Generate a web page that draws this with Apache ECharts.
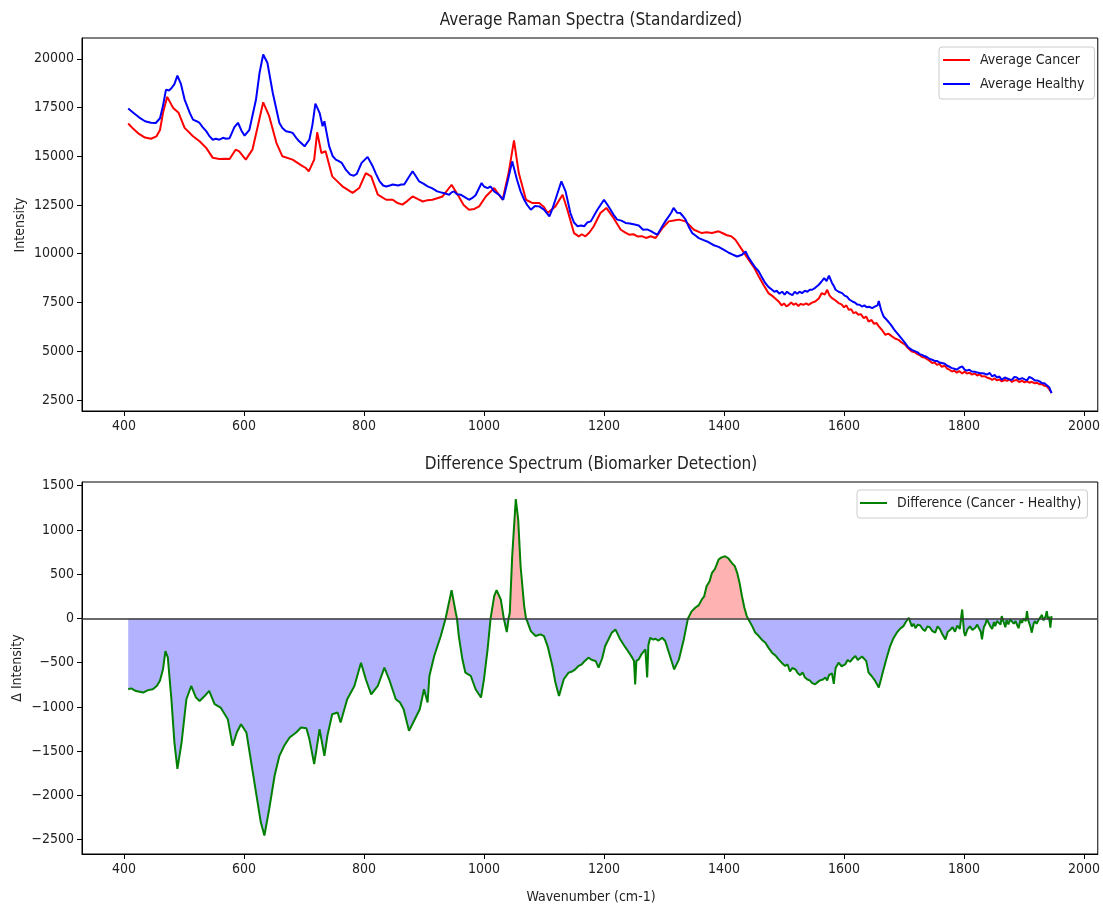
<!DOCTYPE html>
<html><head><meta charset="utf-8">
<script src="https://cdn.jsdelivr.net/npm/echarts@6/dist/echarts.min.js"></script>
<style>html,body{margin:0;padding:0;background:#fff}#c{width:1103px;height:906px}</style>
</head><body><div id="c"></div>
<script>
// ---- data (wavenumber, value) ----
const cancerSpectrum = [[407,16680],[415,16420],[425,16150],[435,15960],[445,15900],[454,16020],[460,16350],[465,17230],[472,18050],[479,17650],[482,17480],[491,17230],[501,16460],[515,16030],[526,15770],[537,15430],[548,14920],[559,14860],[570,14870],[576,14860],[586,15340],[592,15250],[603,14830],[614,15340],[623,16540],[632,17770],[642,17060],[654,15690],[664,15000],[681,14830],[695,14550],[703,14400],[708,14230],[717,14830],[722,16230],[729,15170],[736,15260],[747,13970],[756,13700],[764,13460],[781,13120],[792,13370],[803,14140],[812,13970],[823,13030],[837,12770],[848,12770],[856,12600],[864,12520],[872,12700],[881,12940],[890,12800],[898,12680],[906,12750],[914,12770],[922,12850],[931,12940],[946,13540],[958,12940],[966,12500],[975,12260],[984,12300],[992,12430],[1003,12940],[1017,13370],[1031,12770],[1041,14140],[1050,15820],[1058,14140],[1070,12770],[1081,12600],[1092,12600],[1100,12400],[1106,12090],[1119,12430],[1131,13030],[1139,12260],[1150,11060],[1158,10890],[1163,11000],[1169,10890],[1176,11100],[1183,11410],[1194,12090],[1204,12350],[1214,11920],[1228,11230],[1235,11100],[1242,10980],[1249,11000],[1256,10890],[1263,10900],[1270,10810],[1278,10900],[1286,10810],[1297,11300],[1308,11660],[1316,11700],[1325,11750],[1336,11660],[1350,11230],[1363,11060],[1371,11100],[1380,11060],[1391,11150],[1398,11050],[1405,10950],[1412,10900],[1419,10720],[1430,10210],[1441,9690],[1450,9300],[1458,8830],[1466,8400],[1474,7980],[1480,7850],[1485,7720],[1491,7550],[1496,7350],[1500,7450],[1504,7300],[1508,7380],[1512,7500],[1516,7380],[1520,7450],[1524,7320],[1528,7430],[1532,7380],[1537,7450],[1541,7380],[1546,7480],[1552,7550],[1558,7700],[1563,7980],[1568,7900],[1572,8150],[1576,7850],[1580,7720],[1586,7600],[1591,7470],[1596,7400],[1600,7250],[1604,7350],[1608,7120],[1612,7150],[1616,6950],[1620,7000],[1624,6870],[1628,6900],[1633,6700],[1637,6780],[1641,6520],[1646,6600],[1650,6400],[1654,6450],[1658,6270],[1663,6100],[1669,5840],[1674,5900],[1680,5760],[1685,5650],[1691,5580],[1696,5450],[1702,5330],[1707,5150],[1713,4980],[1718,4950],[1722,4850],[1726,4800],[1730,4700],[1734,4680],[1738,4600],[1743,4500],[1747,4390],[1751,4420],[1755,4300],[1759,4350],[1763,4200],[1768,4250],[1772,4100],[1776,4050],[1780,3960],[1784,4000],[1788,3900],[1792,3980],[1797,3850],[1801,3950],[1805,3850],[1809,3900],[1813,3800],[1818,3850],[1822,3750],[1826,3820],[1830,3700],[1834,3720],[1838,3650],[1843,3600],[1847,3530],[1851,3600],[1855,3500],[1859,3550],[1863,3450],[1868,3520],[1872,3480],[1876,3550],[1880,3420],[1884,3500],[1888,3520],[1892,3420],[1897,3480],[1901,3400],[1905,3450],[1909,3380],[1913,3430],[1918,3350],[1922,3380],[1926,3300],[1930,3320],[1934,3220],[1938,3200],[1942,3050],[1946,2850]];

const healthySpectrum = [[407,17450],[415,17250],[425,17000],[435,16800],[445,16720],[453,16710],[460,16950],[465,17600],[470,18420],[475,18380],[479,18490],[484,18700],[489,19140],[495,18700],[501,17910],[510,17200],[515,16880],[521,16800],[526,16710],[531,16500],[537,16290],[542,16050],[548,15850],[553,15900],[559,15850],[565,15950],[570,15900],[576,15930],[584,16500],[590,16720],[596,16300],[601,16060],[609,16360],[620,17910],[626,19300],[632,20220],[639,19800],[648,18250],[659,16710],[664,16450],[670,16280],[676,16250],[681,16200],[687,15950],[692,15770],[701,15510],[709,15860],[714,16600],[719,17700],[726,17230],[731,16540],[734,16800],[742,15510],[748,15000],[753,14830],[758,14750],[763,14660],[770,14300],[777,14060],[783,14000],[788,14100],[796,14660],[806,14970],[814,14520],[820,14100],[826,13710],[832,13500],[837,13450],[843,13500],[848,13550],[857,13500],[862,13550],[867,13550],[874,13900],[881,14230],[886,14000],[892,13710],[899,13600],[906,13460],[914,13350],[922,13200],[928,13150],[934,13100],[942,13030],[946,13150],[950,13200],[955,13050],[961,13030],[968,12900],[975,12770],[980,12850],[986,13000],[996,13630],[1000,13450],[1006,13370],[1011,13450],[1017,13200],[1026,13000],[1032,12770],[1040,13800],[1047,14740],[1055,13800],[1061,13200],[1067,12770],[1072,12500],[1078,12260],[1085,12450],[1092,12430],[1100,12260],[1109,11920],[1114,12300],[1119,12770],[1129,13710],[1136,13200],[1144,12090],[1150,11600],[1156,11410],[1162,11450],[1167,11410],[1172,11600],[1178,11660],[1189,12260],[1200,12770],[1206,12500],[1211,12260],[1217,11950],[1222,11750],[1229,11700],[1236,11580],[1243,11550],[1251,11500],[1258,11450],[1265,11230],[1272,11250],[1279,11150],[1284,11050],[1289,10980],[1297,11400],[1303,11700],[1308,11920],[1312,12100],[1316,12350],[1322,12100],[1327,12090],[1331,11950],[1336,11750],[1341,11400],[1347,11060],[1352,10950],[1358,10800],[1366,10700],[1374,10600],[1382,10450],[1391,10350],[1400,10200],[1408,10050],[1415,9950],[1422,9860],[1430,9950],[1436,10120],[1441,9800],[1447,9520],[1452,9300],[1458,9090],[1463,8800],[1469,8490],[1474,8300],[1480,8150],[1484,8050],[1488,8100],[1492,7950],[1497,8050],[1501,7900],[1505,8050],[1509,7950],[1514,7880],[1518,8050],[1522,7950],[1526,8050],[1530,7980],[1535,8100],[1539,8050],[1543,8150],[1547,8150],[1552,8250],[1558,8410],[1562,8550],[1567,8750],[1571,8600],[1575,8880],[1580,8500],[1583,8350],[1586,8150],[1591,8050],[1597,7980],[1601,7850],[1605,7800],[1609,7650],[1614,7550],[1618,7500],[1622,7400],[1626,7380],[1630,7290],[1634,7350],[1638,7250],[1642,7280],[1647,7210],[1652,7300],[1656,7350],[1658,7580],[1662,7100],[1666,6780],[1670,6650],[1673,6600],[1677,6400],[1680,6270],[1685,6050],[1691,5840],[1696,5650],[1702,5410],[1707,5200],[1713,5070],[1718,5000],[1722,4950],[1726,4850],[1730,4810],[1734,4750],[1738,4700],[1743,4600],[1747,4560],[1751,4500],[1755,4500],[1759,4420],[1763,4390],[1768,4350],[1772,4250],[1776,4200],[1780,4130],[1784,4100],[1788,4050],[1792,4150],[1797,4220],[1801,4050],[1805,4000],[1809,4050],[1813,3960],[1818,3950],[1822,3900],[1826,3880],[1830,3870],[1834,3850],[1838,3800],[1843,3880],[1847,3700],[1851,3780],[1855,3650],[1859,3700],[1863,3530],[1868,3650],[1872,3600],[1876,3550],[1880,3530],[1884,3680],[1888,3650],[1892,3550],[1897,3620],[1901,3550],[1905,3500],[1909,3680],[1913,3620],[1918,3500],[1922,3500],[1926,3450],[1930,3360],[1934,3350],[1938,3250],[1942,3150],[1946,2850]];

const differenceSpectrum = [[407,-800],[412,-790],[420,-820],[432,-837],[440,-810],[448,-800],[455,-760],[460,-700],[465,-575],[469,-370],[473,-440],[479,-913],[484,-1400],[489,-1700],[496,-1400],[504,-913],[512,-763],[520,-894],[526,-932],[534,-880],[542,-819],[551,-969],[561,-1007],[573,-1138],[581,-1439],[588,-1288],[595,-1195],[604,-1288],[612,-1627],[620,-1965],[628,-2303],[634,-2453],[642,-2153],[651,-1777],[659,-1552],[667,-1439],[676,-1345],[687,-1288],[695,-1232],[704,-1240],[709,-1363],[717,-1645],[726,-1251],[734,-1552],[739,-1326],[747,-1082],[756,-1063],[761,-1176],[772,-913],[784,-763],[795,-500],[803,-687],[812,-857],[823,-763],[834,-556],[842,-690],[853,-913],[860,-950],[866,-1026],[875,-1270],[882,-1176],[893,-1026],[900,-800],[906,-950],[909,-650],[917,-425],[928,-199],[936,0],[946,319],[953,64],[955,0],[958,-199],[964,-462],[969,-613],[978,-650],[986,-800],[995,-894],[1000,-687],[1006,-349],[1011,0],[1017,251],[1021,319],[1028,214],[1033,0],[1038,-154],[1041,0],[1043,64],[1047,702],[1053,1349],[1057,1116],[1061,589],[1067,139],[1070,0],[1072,-30],[1078,-143],[1086,-199],[1094,-180],[1100,-199],[1106,-312],[1114,-537],[1119,-725],[1125,-875],[1133,-687],[1141,-612],[1147,-600],[1152,-575],[1157,-540],[1163,-518],[1168,-480],[1174,-443],[1180,-470],[1186,-480],[1191,-556],[1197,-450],[1202,-312],[1208,-230],[1213,-161],[1219,-124],[1227,-236],[1233,-300],[1238,-349],[1243,-400],[1247,-443],[1250,-480],[1252,-745],[1254,-480],[1258,-462],[1263,-400],[1269,-349],[1272,-668],[1274,-300],[1277,-218],[1282,-240],[1286,-230],[1291,-250],[1297,-218],[1302,-255],[1310,-425],[1317,-575],[1325,-462],[1333,-237],[1340,0],[1346,80],[1352,120],[1358,150],[1363,214],[1367,250],[1371,364],[1376,420],[1380,515],[1385,560],[1391,665],[1396,690],[1402,702],[1407,680],[1410,700],[1413,627],[1418,590],[1422,515],[1426,400],[1430,251],[1434,120],[1438,26],[1440,0],[1447,-87],[1452,-160],[1458,-199],[1463,-240],[1469,-274],[1474,-330],[1480,-387],[1486,-420],[1491,-462],[1496,-500],[1502,-537],[1506,-520],[1510,-600],[1514,-560],[1519,-575],[1523,-620],[1527,-640],[1531,-610],[1535,-668],[1539,-690],[1543,-700],[1547,-730],[1552,-744],[1556,-720],[1560,-700],[1565,-690],[1569,-668],[1572,-700],[1575,-640],[1580,-620],[1583,-740],[1586,-560],[1591,-500],[1596,-540],[1602,-520],[1606,-470],[1610,-490],[1615,-450],[1619,-425],[1623,-470],[1626,-480],[1630,-430],[1633,-440],[1637,-480],[1641,-612],[1646,-650],[1652,-706],[1655,-690],[1658,-781],[1662,-680],[1666,-575],[1671,-450],[1677,-312],[1682,-230],[1688,-161],[1693,-120],[1699,-87],[1703,-40],[1708,8],[1713,-90],[1716,-60],[1719,-110],[1723,-70],[1727,-80],[1731,-120],[1735,-143],[1739,-90],[1743,-100],[1747,-140],[1752,-161],[1756,-90],[1760,-120],[1764,-180],[1769,-237],[1773,-150],[1777,-130],[1781,-100],[1785,-150],[1789,-80],[1793,-120],[1797,101],[1800,-150],[1802,-199],[1806,-120],[1810,-90],[1814,-130],[1819,-105],[1822,-70],[1825,-60],[1828,-150],[1830,-237],[1833,-100],[1836,-60],[1838,-10],[1841,-30],[1844,-90],[1847,-120],[1850,-40],[1852,-87],[1855,-30],[1858,-20],[1861,-70],[1863,26],[1866,-40],[1869,-100],[1871,-20],[1874,-68],[1877,-10],[1880,10],[1883,-60],[1886,-30],[1889,-80],[1891,-110],[1894,-20],[1897,-50],[1899,0],[1901,20],[1903,-30],[1905,82],[1907,-20],[1909,-40],[1911,-100],[1913,-161],[1916,-60],[1918,-30],[1921,-60],[1924,-20],[1927,10],[1930,40],[1932,-20],[1934,-40],[1936,20],[1938,82],[1940,-10],[1942,20],[1944,-105],[1946,26]];

const xTicks = [400, 600, 800, 1000, 1200, 1400, 1600, 1800, 2000];
const yTicksTop = [2500, 5000, 7500, 10000, 12500, 15000, 17500, 20000];
const yTicksBottom = [-2500, -2000, -1500, -1000, -500, 0, 500, 1000, 1500];

// ---- chart ----
const FONT = "'DejaVu Sans Condensed','DejaVu Sans',sans-serif";
const TXT = '#222';
const chart = echarts.init(document.getElementById('c'), null, {renderer: 'canvas'});

const posPart = differenceSpectrum.map(p => [p[0], Math.max(p[1], 0)]);
const negPart = differenceSpectrum.map(p => [p[0], Math.min(p[1], 0)]);
const fmt = v => (v < 0 ? '\u2212' + Math.abs(v) : String(v));

function xAxis(gi) {
  return {
    type: 'value', gridIndex: gi, min: 330, max: 2023,
    axisLine: {show: true, onZero: false, lineStyle: {color: '#000', width: 1}},
    axisTick: {show: true, customValues: xTicks, length: 5, lineStyle: {color: '#000'}},
    axisLabel: {customValues: xTicks, color: TXT, fontSize: 14, fontFamily: FONT, margin: 8, formatter: fmt},
    splitLine: {show: false}
  };
}
function yAxis(gi, min, max, ticks) {
  return {
    type: 'value', gridIndex: gi, min: min, max: max,
    axisLine: {show: true, onZero: false, lineStyle: {color: '#000', width: 1}},
    axisTick: {show: true, customValues: ticks, length: 5, lineStyle: {color: '#000'}},
    axisLabel: {customValues: ticks, color: TXT, fontSize: 14, fontFamily: FONT, margin: 8, formatter: fmt},
    splitLine: {show: false}
  };
}

const legendBase = {
  orient: 'vertical', icon: 'rect', itemWidth: 27, itemHeight: 2, itemGap: 8,
  backgroundColor: 'rgba(255,255,255,0.8)', borderColor: '#cccccc', borderWidth: 1, borderRadius: 3,
  textStyle: {color: TXT, fontSize: 14, fontFamily: FONT, lineHeight: 16, padding: [0, 0, 0, 5]}
};

chart.setOption({
  animation: false,
  backgroundColor: '#fff',
  grid: [
    {left: 82, top: 38, width: 1017, height: 373, show: true, borderColor: '#000', borderWidth: 1},
    {left: 82, top: 482, width: 1017, height: 372, show: true, borderColor: '#000', borderWidth: 1}
  ],
  xAxis: [xAxis(0), xAxis(1)],
  yAxis: [yAxis(0, 1930, 21070, yTicksTop), yAxis(1, -2661, 1541, yTicksBottom)],
  legend: [
    Object.assign({}, legendBase, {data: ['Average Cancer', 'Average Healthy'], left: 939, top: 47, padding: [5, 10, 7, 4]}),
    Object.assign({}, legendBase, {data: ['Difference (Cancer - Healthy)'], left: 857, top: 490, padding: [5, 6, 7, 3]})
  ],
  graphic: [
    {type: 'text', x: 591, y: 21, style: {text: 'Average Raman Spectra (Standardized)', fontSize: 17, fontFamily: FONT, fill: TXT, align: 'center', verticalAlign: 'middle'}},
    {type: 'text', x: 591, y: 465, style: {text: 'Difference Spectrum (Biomarker Detection)', fontSize: 17, fontFamily: FONT, fill: TXT, align: 'center', verticalAlign: 'middle'}},
    {type: 'text', x: 20, y: 225, rotation: Math.PI / 2, style: {text: 'Intensity', fontSize: 14, fontFamily: FONT, fill: TXT, align: 'center', verticalAlign: 'middle'}},
    {type: 'text', x: 17, y: 668, rotation: Math.PI / 2, style: {text: '\u0394 Intensity', fontSize: 14, fontFamily: FONT, fill: TXT, align: 'center', verticalAlign: 'middle'}},
    {type: 'text', x: 591, y: 897, style: {text: 'Wavenumber (cm-1)', fontSize: 14, fontFamily: FONT, fill: TXT, align: 'center', verticalAlign: 'middle'}}
  ],
  series: [
    {name: 'Average Cancer', type: 'line', xAxisIndex: 0, yAxisIndex: 0, data: cancerSpectrum,
      showSymbol: false, symbol: 'none', lineStyle: {color: '#ff0000', width: 2}, itemStyle: {color: '#ff0000'}},
    {name: 'Average Healthy', type: 'line', xAxisIndex: 0, yAxisIndex: 0, data: healthySpectrum,
      showSymbol: false, symbol: 'none', lineStyle: {color: '#0000ff', width: 2}, itemStyle: {color: '#0000ff'}},
    {name: 'negFill', type: 'line', xAxisIndex: 1, yAxisIndex: 1, data: negPart, showSymbol: false, symbol: 'none',
      lineStyle: {width: 0}, areaStyle: {color: 'rgba(0,0,255,0.3)', opacity: 1, origin: 0}, silent: true},
    {name: 'posFill', type: 'line', xAxisIndex: 1, yAxisIndex: 1, data: posPart, showSymbol: false, symbol: 'none',
      lineStyle: {width: 0}, areaStyle: {color: 'rgba(255,0,0,0.3)', opacity: 1, origin: 0}, silent: true},
    {name: 'Difference (Cancer - Healthy)', type: 'line', xAxisIndex: 1, yAxisIndex: 1, data: differenceSpectrum,
      showSymbol: false, symbol: 'none', lineStyle: {color: '#008000', width: 2}, itemStyle: {color: '#008000'},
      markLine: {silent: true, symbol: 'none', label: {show: false}, lineStyle: {color: '#3a3a3a', width: 1.6, type: 'solid'},
        data: [{yAxis: 0}]}}
  ]
});
</script>
</body></html>
